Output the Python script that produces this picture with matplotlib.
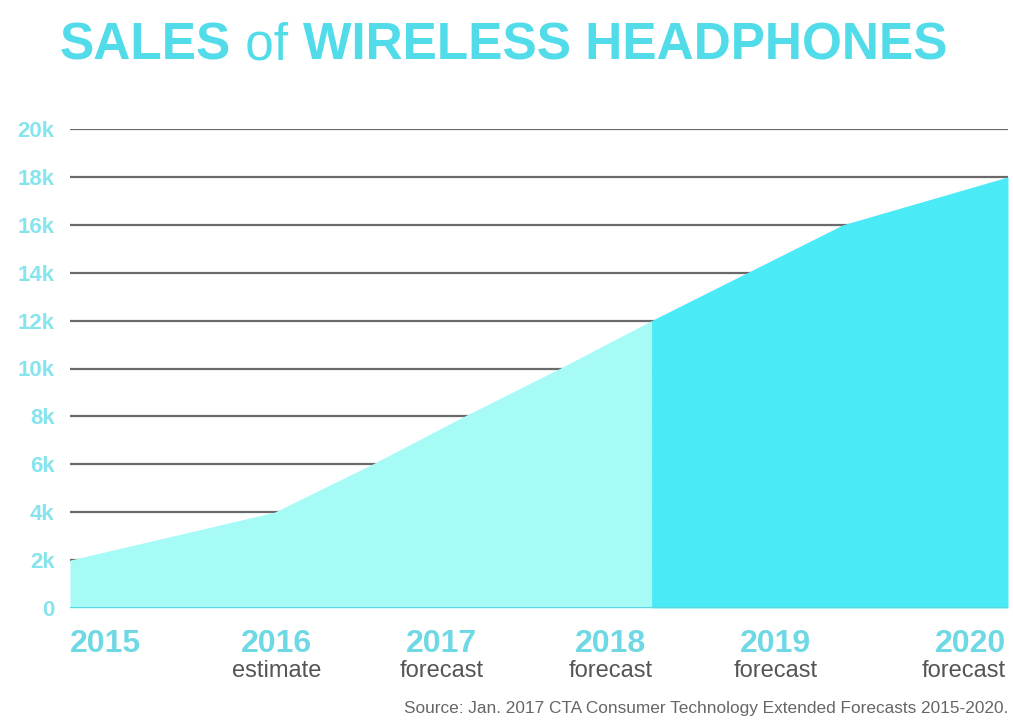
import numpy as np
import matplotlib.pyplot as plt
from matplotlib.transforms import blended_transform_factory

plt.rcParams["font.family"] = ["Liberation Sans", "DejaVu Sans"]

# sales values (x as fractional year)
years = [2015.0, 2016.09, 2016.61, 2017.1, 2017.61, 2018.1, 2018.61, 2019.12, 2020.0]
sales = [2000, 4000, 6000, 8000, 10000, 12000, 14000, 16000, 18000]
split_year = 2018.1

y_ticks = [0, 2000, 4000, 6000, 8000, 10000, 12000, 14000, 16000, 18000, 20000]
y_labels = ["0", "2k", "4k", "6k", "8k", "10k", "12k", "14k", "16k", "18k", "20k"]

year_labels = ["2015", "2016", "2017", "2018", "2019", "2020"]
sub_labels = ["", "estimate", "forecast", "forecast", "forecast", "forecast"]
label_x = [2015.0, 2016.1, 2016.98, 2017.88, 2018.76, 2019.99]
label_ha = ["left", "center", "center", "center", "center", "right"]

LIGHT = "#a7fbf7"
DARK = "#4beaf7"
TITLE_C = "#52dcea"
YEAR_C = "#6ed9e4"
TICK_C = "#86e4ec"

fig = plt.figure(figsize=(10.13, 7.22), dpi=100)
ax = fig.add_axes([70 / 1013, 1 - 608 / 722, (1008 - 70) / 1013, (608 - 129) / 722])

x = np.array(years)
y = np.array(sales)
ax.fill_between(x, y, where=x <= split_year + 1e-9, color=LIGHT, lw=0, zorder=3)
ax.fill_between(x, y, where=x >= split_year - 1e-9, color=DARK, lw=0, zorder=3)

# grid lines sit behind the area
for t in y_ticks[1:]:
    ax.axhline(t, color="#6a6a6a", lw=1.6, zorder=1)
ax.axhline(0, color="#5fd6e3", lw=1.5, zorder=4)

ax.set_xlim(2015, 2020)
ax.set_ylim(0, 20000)
ax.set_yticks(y_ticks)
ax.set_yticklabels(y_labels, fontsize=16, fontweight="bold", color=TICK_C)
ax.tick_params(axis="y", length=0, pad=11)
ax.set_xticks([])
for s in ax.spines.values():
    s.set_visible(False)
ax.patch.set_alpha(0)

trans = blended_transform_factory(ax.transData, fig.transFigure)
for lx, yl, sl, ha in zip(label_x, year_labels, sub_labels, label_ha):
    ax.text(lx, 1 - 652 / 722, yl, transform=trans, ha=ha, va="baseline",
            fontsize=23, fontweight="bold", color=YEAR_C)
    if sl:
        ax.text(lx, 1 - 677 / 722, sl, transform=trans, ha=ha, va="baseline",
                fontsize=17, color="#555555")

fig.text(1008 / 1013, 1 - 713 / 722,
         "Source: Jan. 2017 CTA Consumer Technology Extended Forecasts 2015-2020.",
         ha="right", va="baseline", fontsize=12.4, color="#666666")

# title built from pieces so "of" can be lighter
renderer = fig.canvas.get_renderer()
tx = 60 / 1013
ty = 1 - 60 / 722
for part, weight in [("SALES", "bold"), (" of ", "normal"), ("WIRELESS HEADPHONES", "bold")]:
    t = fig.text(tx, ty, part, ha="left", va="baseline", fontsize=37,
                 fontweight=weight, color=TITLE_C)
    bb = t.get_window_extent(renderer=renderer)
    tx += bb.width / fig.bbox.width

fig.savefig("out.png", dpi=100)
